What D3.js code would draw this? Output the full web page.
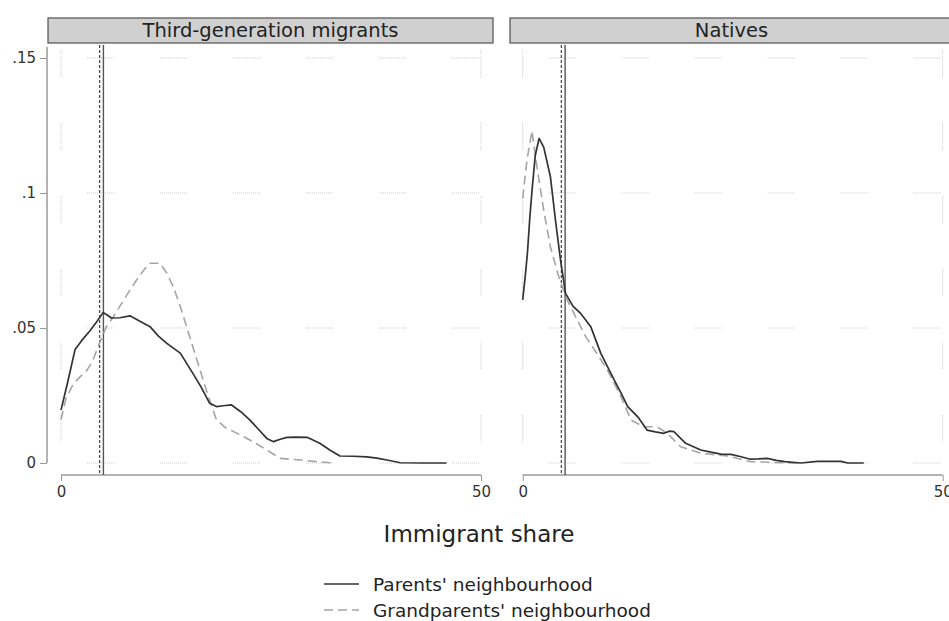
<!DOCTYPE html>
<html>
<head>
<meta charset="utf-8">
<script src="https://cdn.jsdelivr.net/npm/d3@7"></script>
<style>
  body { margin: 0; background: #fff; }
  svg { display: block; font-family: "DejaVu Sans", sans-serif; }
</style>
</head>
<body>
<div id="chart"></div>
<script>
// panel titles
const panelNames = ['Third-generation migrants', 'Natives'];

// axis ticks
const yTicks = [0, 0.05, 0.1, 0.15];
const yTickLabels = ['0', '.05', '.1', '.15'];
const xTicks = [0, 50];

// reference lines (dashed, solid) per panel
const refDashed = [4.6, 4.6];
const refSolid = [5.05, 5.05];

// densities: [immigrant share, density]
const thirdParents = [
  [0, 0.0196], [0.8, 0.030], [1.67, 0.042], [2.5, 0.0455], [3.45, 0.049], [4.3, 0.0525],
  [5.0, 0.0557], [5.5, 0.0548], [6.0, 0.0537], [7.0, 0.0538], [8.2, 0.0545], [9.4, 0.0525],
  [10.6, 0.0505], [11.6, 0.047], [12.6, 0.0443], [14.2, 0.0407], [15.7, 0.0332], [16.7, 0.028],
  [17.7, 0.0221], [18.5, 0.0209], [19.3, 0.0212], [20.3, 0.0215], [21.4, 0.019], [22.5, 0.0159],
  [23.5, 0.0125], [24.5, 0.0091], [25.3, 0.0079], [26.1, 0.0088], [26.9, 0.0095], [28.0, 0.0096],
  [29.3, 0.0095], [30.8, 0.0073], [32.0, 0.0048], [33.2, 0.0026], [34.8, 0.0025], [36.4, 0.0023],
  [37.6, 0.0018], [38.8, 0.0011], [40.4, 0.0001], [43.0, 0.0], [45.9, 0.0]
];
const thirdGrand = [
  [0, 0.016], [0.6, 0.024], [1.5, 0.0295], [2.3, 0.032], [3.1, 0.0344], [3.8, 0.038],
  [4.4, 0.043], [5.4, 0.0505], [6.2, 0.054], [7.0, 0.058], [8.0, 0.063], [9.0, 0.0678],
  [10.0, 0.072], [10.6, 0.074], [11.8, 0.074], [12.6, 0.0703], [13.4, 0.065], [14.2, 0.058],
  [15.7, 0.043], [17.3, 0.027], [18.5, 0.016], [19.6, 0.013], [21.3, 0.0105], [22.9, 0.0078],
  [24.5, 0.0048], [26.1, 0.0017], [28.5, 0.0011], [30.4, 0.0005], [32.4, 0.0]
];
const nativesParents = [
  [0, 0.0604], [0.3, 0.069], [0.56, 0.0777], [0.85, 0.091], [1.15, 0.1023], [1.5, 0.114],
  [1.95, 0.1202], [2.5, 0.117], [3.3, 0.106], [3.9, 0.090], [4.5, 0.0752], [5.1, 0.0628],
  [6.0, 0.058], [6.9, 0.0554], [7.5, 0.053], [8.1, 0.0505], [9.3, 0.0406], [10.9, 0.0307],
  [11.7, 0.026], [12.5, 0.0209], [13.7, 0.0171], [14.8, 0.0122], [15.8, 0.0115], [16.8, 0.011],
  [17.5, 0.0118], [18.0, 0.0116], [19.4, 0.0073], [21.2, 0.0048], [22.4, 0.004], [23.6, 0.0033],
  [24.8, 0.0032], [26.0, 0.0023], [27.1, 0.0014], [28.0, 0.0015], [29.1, 0.0017], [30.2, 0.001],
  [31.2, 0.0005], [33.1, 0.0], [35.1, 0.0006], [37.9, 0.0006], [38.7, 0.0], [40.6, 0.0]
];
const nativesGrand = [
  [0, 0.098], [0.5, 0.112], [1.1, 0.123], [1.75, 0.1085], [2.5, 0.0937], [3.3, 0.080],
  [4.3, 0.069], [5.2, 0.061], [6.1, 0.0554], [7.5, 0.0468], [8.7, 0.0412], [10.1, 0.0344],
  [11.7, 0.0246], [12.9, 0.0159], [14.4, 0.0134], [16.0, 0.0134], [17.2, 0.011], [18.8, 0.006],
  [21.2, 0.0036], [24.4, 0.0026], [27.1, 0.0005], [30.8, 0.0001], [33.0, 0.0]
];

const seriesNames = ["Parents' neighbourhood", "Grandparents' neighbourhood"];
const panelSeries = [[thirdParents, thirdGrand], [nativesParents, nativesGrand]];

const width = 949, height = 621;
const svg = d3.select('#chart').append('svg')
  .attr('width', width).attr('height', height);

// panel geometry
const panels = [
  { left: 48, right: 493, x0: 61, x1: 481 },
  { left: 510, right: 953, x0: 522.7, x1: 942.7 }
];
const headTop = 18, headBottom = 43;
const plotTop = 45, plotBottom = 475;

const y = d3.scaleLinear().domain([0, 0.15]).range([463, 58]);

const lineStyles = [
  { stroke: '#333333', dash: null, width: 1.7 },
  { stroke: '#a5a5a5', dash: '9,5', width: 1.6 }
];

// faint dotted grid: short dotted runs with long gaps
const gridDash = d3.range(14).map(() => '1,1').join(',') + ',0,45';

panels.forEach((p, i) => {
  const g = svg.append('g');
  const x = d3.scaleLinear().domain([0, 50]).range([p.x0, p.x1]);

  // header strip
  g.append('rect')
    .attr('x', p.left).attr('y', headTop)
    .attr('width', p.right - p.left).attr('height', headBottom - headTop)
    .attr('fill', '#d0d0d0').attr('stroke', '#505050').attr('stroke-width', 1.2);
  g.append('text')
    .attr('x', (p.left + p.right) / 2).attr('y', 36.5)
    .attr('text-anchor', 'middle').attr('font-size', 19.5).attr('fill', '#222')
    .text(panelNames[i]);

  // faint grid
  g.selectAll('.hgrid').data(yTicks).join('line')
    .attr('x1', p.x0).attr('x2', p.x1)
    .attr('y1', d => y(d)).attr('y2', d => y(d))
    .attr('stroke', '#cccccc').attr('stroke-width', 1)
    .attr('stroke-dasharray', gridDash).attr('stroke-dashoffset', 47);
  g.selectAll('.vgrid').data(xTicks).join('line')
    .attr('x1', d => x(d)).attr('x2', d => x(d))
    .attr('y1', plotTop).attr('y2', 463)
    .attr('stroke', '#cccccc').attr('stroke-width', 1)
    .attr('stroke-dasharray', gridDash).attr('stroke-dashoffset', -5);

  // x axis
  const xAxis = g.append('g').attr('transform', `translate(0,${plotBottom})`)
    .call(d3.axisBottom(x).tickValues(xTicks).tickSize(6).tickPadding(5).tickFormat(d3.format('d')));
  xAxis.select('.domain').attr('stroke', '#9a9a9a').attr('stroke-width', 1.5)
    .attr('d', `M${p.x0},0H${p.x1}`);
  xAxis.selectAll('.tick line').attr('stroke', '#9a9a9a');
  xAxis.selectAll('.tick text').attr('font-size', 15).attr('fill', '#333')
    .attr('font-family', '"DejaVu Sans", sans-serif');

  // y axis only on first panel
  if (i === 0) {
    const yAxis = g.append('g').attr('transform', 'translate(47,0)')
      .call(d3.axisLeft(y).tickValues(yTicks).tickSize(7).tickPadding(4)
        .tickFormat((d, k) => yTickLabels[k]));
    yAxis.select('.domain').attr('stroke', '#9a9a9a').attr('stroke-width', 1.5)
      .attr('d', `M0,${plotTop + 2}V${y(0)}`);
    yAxis.selectAll('.tick line').attr('stroke', '#9a9a9a');
    yAxis.selectAll('.tick text').attr('font-size', 15).attr('fill', '#333')
      .attr('font-family', '"DejaVu Sans", sans-serif');
  }

  // reference lines
  g.append('line')
    .attr('x1', x(refDashed[i])).attr('x2', x(refDashed[i]))
    .attr('y1', plotTop).attr('y2', plotBottom)
    .attr('stroke', '#444').attr('stroke-width', 1.2).attr('stroke-dasharray', '3,2');
  g.append('line')
    .attr('x1', x(refSolid[i])).attr('x2', x(refSolid[i]))
    .attr('y1', plotTop).attr('y2', plotBottom)
    .attr('stroke', '#555').attr('stroke-width', 1.4);

  // density curves
  const line = d3.line().x(d => x(d[0])).y(d => y(d[1]));
  [1, 0].forEach(s => {
    g.append('path')
      .datum(panelSeries[i][s])
      .attr('d', line)
      .attr('fill', 'none')
      .attr('stroke', lineStyles[s].stroke)
      .attr('stroke-width', lineStyles[s].width)
      .attr('stroke-dasharray', lineStyles[s].dash)
      .attr('stroke-linejoin', 'round');
  });
});

// axis title
svg.append('text')
  .attr('x', 479).attr('y', 542)
  .attr('text-anchor', 'middle').attr('font-size', 23).attr('fill', '#222')
  .text('Immigrant share');

// legend
const legend = svg.append('g');
seriesNames.forEach((name, k) => {
  const ly = 584 + k * 26;
  legend.append('line')
    .attr('x1', 324).attr('x2', 359).attr('y1', ly).attr('y2', ly)
    .attr('stroke', lineStyles[k].stroke)
    .attr('stroke-width', 1.4)
    .attr('stroke-dasharray', lineStyles[k].dash);
  legend.append('text')
    .attr('x', 373).attr('y', ly + 7)
    .attr('font-size', 18.5).attr('fill', '#222')
    .text(name);
});
</script>
</body>
</html>
